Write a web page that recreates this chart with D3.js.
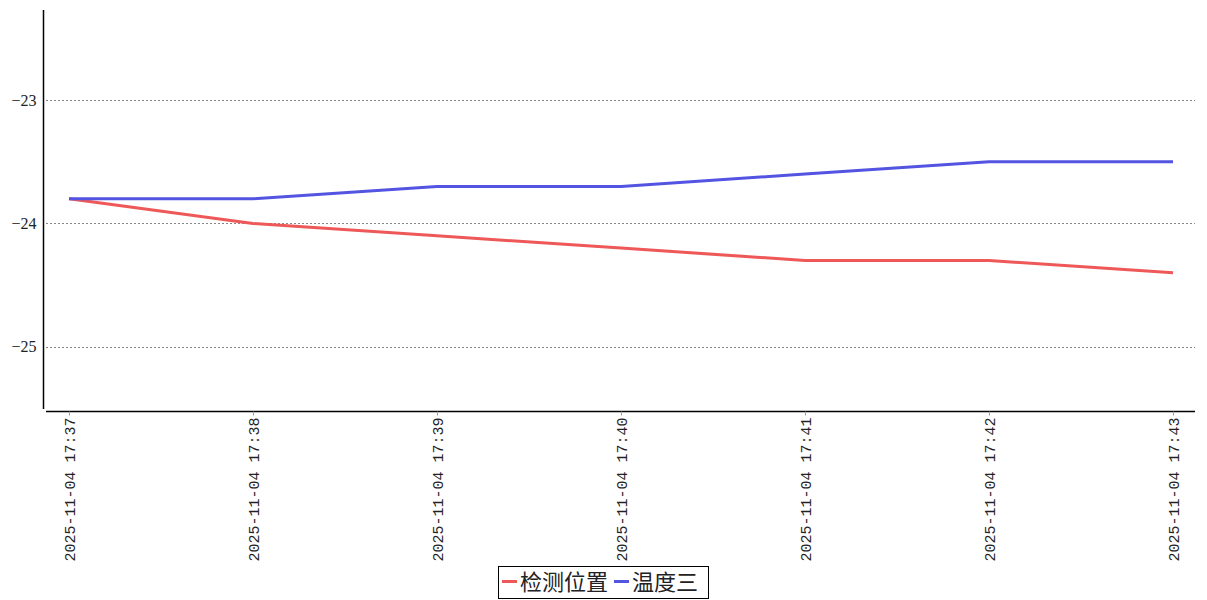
<!DOCTYPE html>
<html><head><meta charset="utf-8">
<script src="https://cdn.jsdelivr.net/npm/d3@7"></script>
<style>
body{margin:0;background:#fff;}
</style></head>
<body>
<svg id="chart" width="1207" height="600"></svg>
<script>
const categories = ["2025-11-04 17:37","2025-11-04 17:38","2025-11-04 17:39","2025-11-04 17:40","2025-11-04 17:41","2025-11-04 17:42","2025-11-04 17:43"];
const seriesNames = ["检测位置","温度三"];
const seriesRed = [-23.8,-24.0,-24.1,-24.2,-24.3,-24.3,-24.4];
const seriesBlue = [-23.8,-23.8,-23.7,-23.7,-23.6,-23.5,-23.5];
const yTicks = [-23,-24,-25];
const colors = ["#ee5858","#5454e2"];

const svg = d3.select("#chart");
const x = d3.scalePoint().domain(categories).range([69,1173]);
const y = d3.scaleLinear().domain([-25.504,-22.27]).range([409,10]);

// grid
svg.append("g").selectAll("line").data(yTicks).join("line")
  .attr("x1",46).attr("x2",1195)
  .attr("y1",d=>Math.round(y(d))+0.5).attr("y2",d=>Math.round(y(d))+0.5)
  .attr("stroke","#888").attr("stroke-width",1).attr("stroke-dasharray","2,2");

// y axis
const yAxis = svg.append("g").attr("transform","translate(43.5,0)")
  .call(d3.axisLeft(y).tickValues(yTicks).tickSize(0).tickPadding(7).tickFormat(d=>"\u2212"+Math.abs(d)));
yAxis.select(".domain").attr("d","M0,10V409").attr("stroke","#000").attr("stroke-width",1.5);
yAxis.selectAll("text").style("font-size","16px").style("fill","#222").style("font-family","'Liberation Serif',serif");

// x axis
const xAxis = svg.append("g").attr("transform","translate(0,411.5)")
  .call(d3.axisBottom(x).tickSize(4).tickPadding(5));
xAxis.select(".domain").attr("d","M46,0H1195").attr("stroke","#000").attr("stroke-width",1.5);
xAxis.selectAll(".tick line").attr("stroke","#999");
xAxis.selectAll("text")
  .style("font-family","'Liberation Mono',monospace").style("font-size","15px").style("fill","#222")
  .attr("transform","rotate(-90)").attr("text-anchor","end")
  .attr("x",-6).attr("y",0).attr("dy","0.35em");

// lines
const line = d3.line().x((d,i)=>x(categories[i])).y(d=>y(d));
[seriesRed,seriesBlue].forEach((s,i)=>{
  svg.append("path").datum(s).attr("d",line).attr("fill","none")
    .attr("stroke",colors[i]).attr("stroke-width",3);
});

// legend
const lg = svg.append("g");
lg.append("rect").attr("x",498.5).attr("y",566.5).attr("width",210).attr("height",32)
  .attr("fill","#fff").attr("stroke","#000").attr("stroke-width",1);
const items = [{x:502,name:seriesNames[0],c:colors[0]},{x:614,name:seriesNames[1],c:colors[1]}];
items.forEach(it=>{
  lg.append("line").attr("x1",it.x).attr("x2",it.x+15).attr("y1",581.5).attr("y2",581.5)
    .attr("stroke",it.c).attr("stroke-width",3);
  lg.append("text").attr("x",it.x+18).attr("y",590)
    .style("font-size","22px").style("font-family","'Noto Sans CJK SC',sans-serif").style("fill","#222").text(it.name);
});
</script>
</body></html>
